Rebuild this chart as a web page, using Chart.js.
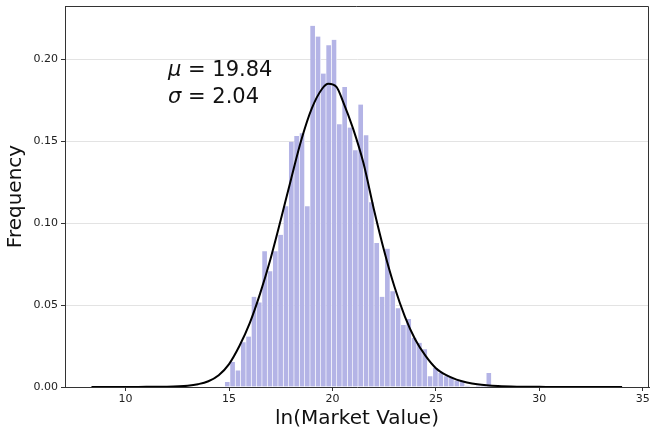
<!DOCTYPE html>
<html>
<head>
<meta charset="utf-8">
<script src="https://cdn.jsdelivr.net/npm/chart.js@4/dist/chart.umd.min.js"></script>
<style>
  html, body { margin: 0; padding: 0; background: #fff; }
  #wrap { width: 651px; height: 431px; }
</style>
</head>
<body>
<div id="wrap"><canvas id="histChart"></canvas></div>
<script>
// histogram: 50 equal bins, density-normalised
const binStart = 14.80;
const binWidth = 0.258;
const binHeights = [
  0.0030, 0.0152, 0.0101, 0.0273, 0.0308, 0.0551, 0.0516, 0.0828, 0.0706, 0.0828,
  0.0929, 0.1103, 0.1496, 0.1532, 0.1548, 0.1103, 0.2204, 0.2139, 0.1913, 0.2085,
  0.2119, 0.1603, 0.1830, 0.1583, 0.1445, 0.1724, 0.1536, 0.1128, 0.0878, 0.0551,
  0.0844, 0.0585, 0.0480, 0.0378, 0.0415, 0.0300, 0.0270, 0.0230, 0.0065, 0.0116,
  0.0085, 0.0065, 0.0055, 0.0039, 0.0035, 0.0008, 0.0000, 0.0008, 0.0008, 0.0085
];

// fitted normal curve
const curveX = [8.35, 10, 11, 12, 13, 13.5, 14, 14.5, 15, 15.5, 16, 16.5, 17, 17.5, 18, 18.5,
  19, 19.5, 19.8, 20.2, 20.5, 21, 21.5, 22, 22.5, 23, 23.5, 24, 24.5, 25, 25.5, 26, 26.5,
  27, 28, 29, 30, 31, 32, 34.0];
const curveY = [0, 0, 0.0001, 0.0002, 0.0008, 0.0017, 0.0035, 0.0072, 0.0140, 0.0250, 0.0390,
  0.0570, 0.0780, 0.1020, 0.1270, 0.1510, 0.1700, 0.1820, 0.1850, 0.1830, 0.1745, 0.1575,
  0.1365, 0.1085, 0.0830, 0.0610, 0.0430, 0.0290, 0.0190, 0.0115, 0.0072, 0.0045, 0.0028,
  0.0017, 0.0006, 0.0002, 0.0001, 0, 0, 0];

const xTicks = [10, 15, 20, 25, 30, 35];
const yTicks = [0, 0.05, 0.10, 0.15, 0.20];
const fitMu = 19.84;
const fitSigma = 2.04;

const barPoints = binHeights.map((h, i) => ({ x: binStart + binWidth * (i + 0.5), y: h }));
const curvePoints = curveX.map((x, i) => ({ x: x, y: curveY[i] }));

const axisColor = '#333333';
const textColor = '#222222';

// draws the top/right spines
const frameBox = {
  id: 'frameBox',
  afterDraw(chart) {
    const { ctx, chartArea: a } = chart;
    ctx.save();
    ctx.strokeStyle = axisColor;
    ctx.lineWidth = 1;
    ctx.beginPath();
    ctx.moveTo(a.left, a.top + 0.5);
    ctx.lineTo(a.right - 0.5, a.top + 0.5);
    ctx.lineTo(a.right - 0.5, a.bottom);
    ctx.stroke();
    ctx.restore();
  }
};

// mu / sigma text
const statsLabel = {
  id: 'statsLabel',
  afterDatasetsDraw(chart) {
    const { ctx, scales: { x, y } } = chart;
    const px = x.getPixelForValue(12.05);
    const py = y.getPixelForValue(0.1895);
    const lines = [['\u03bc', ' = ' + fitMu.toFixed(2)], ['\u03c3', ' = ' + fitSigma.toFixed(2)]];
    ctx.save();
    ctx.fillStyle = '#111';
    ctx.textBaseline = 'alphabetic';
    lines.forEach((ln, i) => {
      const by = py + i * 26.5;
      ctx.font = 'italic 21px "DejaVu Sans"';
      ctx.fillText(ln[0], px, by);
      const w = ctx.measureText(ln[0]).width;
      ctx.font = '21px "DejaVu Sans"';
      ctx.fillText(ln[1], px + w, by);
    });
    ctx.restore();
  }
};

new Chart(document.getElementById('histChart'), {
  type: 'bar',
  data: {
    datasets: [
      {
        type: 'line',
        label: 'Normal fit',
        data: curvePoints,
        borderColor: '#000000',
        borderWidth: 2,
        pointRadius: 0,
        fill: false,
        cubicInterpolationMode: 'monotone',
        order: 0
      },
      {
        type: 'bar',
        label: 'ln(Market Value)',
        data: barPoints,
        backgroundColor: 'rgb(180, 180, 230)',
        borderColor: 'rgba(255, 255, 255, 0.75)',
        borderWidth: { left: 0, right: 1, top: 0, bottom: 0 },
        borderSkipped: false,
        categoryPercentage: 1.0,
        barPercentage: 1.0,
        order: 1
      }
    ]
  },
  options: {
    responsive: true,
    maintainAspectRatio: false,
    animation: false,
    layout: { padding: { left: 0, right: 2, top: 6, bottom: 0 } },
    plugins: {
      legend: { display: false },
      tooltip: { enabled: false }
    },
    scales: {
      x: {
        type: 'linear',
        offset: false,
        min: 7.07,
        max: 35.3,
        afterBuildTicks: (scale) => { scale.ticks = xTicks.map(v => ({ value: v })); },
        afterFit: (scale) => {
          scale.height = 44;
          scale.paddingLeft = 0;
          scale.paddingRight = 0;
        },
        grid: { drawOnChartArea: false, drawTicks: true, tickLength: 4, tickColor: axisColor, offset: false },
        border: { display: true, color: axisColor, width: 1 },
        ticks: {
          color: textColor,
          font: { family: 'DejaVu Sans', size: 11 },
          padding: 2,
          maxRotation: 0,
          callback: (v) => String(v)
        },
        title: {
          display: true,
          text: 'ln(Market Value)',
          color: '#111',
          font: { family: 'DejaVu Sans', size: 20 },
          padding: { top: 0, bottom: 0 }
        }
      },
      y: {
        min: 0,
        max: 0.2325,
        afterBuildTicks: (scale) => { scale.ticks = yTicks.map(v => ({ value: v })); },
        afterFit: (scale) => {
          scale.width = 65;
          scale.paddingTop = 0;
          scale.paddingBottom = 0;
        },
        grid: { color: '#e3e3e3', lineWidth: 1, drawTicks: true, tickLength: 4, tickColor: axisColor },
        border: { display: true, color: axisColor, width: 1 },
        ticks: {
          color: textColor,
          font: { family: 'DejaVu Sans', size: 11 },
          padding: 3,
          callback: (v) => Number(v).toFixed(2)
        },
        title: {
          display: true,
          text: 'Frequency',
          color: '#111',
          font: { family: 'DejaVu Sans', size: 20 },
          padding: { top: 4, bottom: 0 }
        }
      }
    }
  },
  plugins: [frameBox, statsLabel]
});
</script>
</body>
</html>
